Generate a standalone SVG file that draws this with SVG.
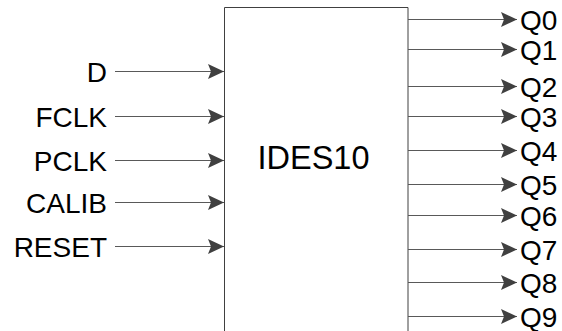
<svg xmlns="http://www.w3.org/2000/svg" width="562" height="331" viewBox="0 0 562 331">
<style>
.lbl{font-family:"Liberation Sans",Arial,sans-serif;font-size:28px;fill:#000}
.in{text-anchor:end}
.wire{stroke:#595959;stroke-width:1;fill:none}
.box{fill:#fff;stroke:#404040;stroke-width:1}
</style>
<defs>
<marker id="ah" viewBox="0 0 16 16" refX="16" refY="8" markerWidth="16" markerHeight="16" markerUnits="userSpaceOnUse" orient="auto">
<path d="M0,0.5 L16,8 L0,15.5 L3,8 Z" fill="#404040"/>
</marker>
</defs>
<rect width="562" height="331" fill="#fff"/>
<g id="ides10">
<path class="box" d="M224.5,340 V7.5 H408 V340"/>
<text class="lbl" x="313.5" y="169" text-anchor="middle" style="font-size:32.5px">IDES10</text>
</g>
<g id="connectors">
<line class="wire" x1="115" y1="71.5" x2="224" y2="71.5" marker-end="url(#ah)"/>
<line class="wire" x1="115" y1="116.5" x2="224" y2="116.5" marker-end="url(#ah)"/>
<line class="wire" x1="115" y1="160.5" x2="224" y2="160.5" marker-end="url(#ah)"/>
<line class="wire" x1="115" y1="202.5" x2="224" y2="202.5" marker-end="url(#ah)"/>
<line class="wire" x1="115" y1="246.5" x2="224" y2="246.5" marker-end="url(#ah)"/>
<line class="wire" x1="408" y1="19.5" x2="517" y2="19.5" marker-end="url(#ah)"/>
<line class="wire" x1="408" y1="49.5" x2="517" y2="49.5" marker-end="url(#ah)"/>
<line class="wire" x1="408" y1="86.5" x2="517" y2="86.5" marker-end="url(#ah)"/>
<line class="wire" x1="408" y1="116.5" x2="517" y2="116.5" marker-end="url(#ah)"/>
<line class="wire" x1="408" y1="150.5" x2="517" y2="150.5" marker-end="url(#ah)"/>
<line class="wire" x1="408" y1="184.5" x2="517" y2="184.5" marker-end="url(#ah)"/>
<line class="wire" x1="408" y1="215.5" x2="517" y2="215.5" marker-end="url(#ah)"/>
<line class="wire" x1="408" y1="249.5" x2="517" y2="249.5" marker-end="url(#ah)"/>
<line class="wire" x1="408" y1="282.5" x2="517" y2="282.5" marker-end="url(#ah)"/>
<line class="wire" x1="408" y1="316.5" x2="517" y2="316.5" marker-end="url(#ah)"/>
</g>
<g id="inputs">
<text id="in-D" class="lbl in" x="107" y="81.5">D</text>
<text id="in-FCLK" class="lbl in" x="107" y="126.5">FCLK</text>
<text id="in-PCLK" class="lbl in" x="107" y="170.5">PCLK</text>
<text id="in-CALIB" class="lbl in" x="107" y="212.5">CALIB</text>
<text id="in-RESET" class="lbl in" x="107" y="256.5">RESET</text>
</g>
<g id="outputs">
<text id="out-Q0" class="lbl" x="520" y="29.5">Q0</text>
<text id="out-Q1" class="lbl" x="520" y="59.5">Q1</text>
<text id="out-Q2" class="lbl" x="520" y="96.5">Q2</text>
<text id="out-Q3" class="lbl" x="520" y="126.5">Q3</text>
<text id="out-Q4" class="lbl" x="520" y="160.5">Q4</text>
<text id="out-Q5" class="lbl" x="520" y="194.5">Q5</text>
<text id="out-Q6" class="lbl" x="520" y="225.5">Q6</text>
<text id="out-Q7" class="lbl" x="520" y="259.5">Q7</text>
<text id="out-Q8" class="lbl" x="520" y="292.5">Q8</text>
<text id="out-Q9" class="lbl" x="520" y="326.5">Q9</text>
</g>
</svg>
